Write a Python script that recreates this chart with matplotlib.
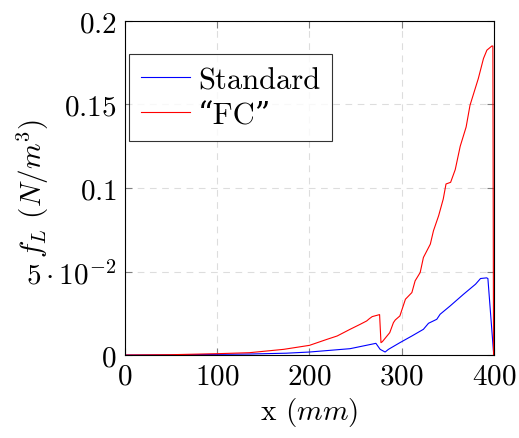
import matplotlib
matplotlib.use("Agg")
import matplotlib.pyplot as plt

# ---- data ----
x_std = [0, 50, 100, 135, 175, 200, 244, 272, 276.6, 282, 285.6, 298, 311,
         323.5, 329, 338, 341.6, 352.5, 367, 380, 385.4, 392, 393.4, 399.4, 400]
y_std = [0, 0.0001, 0.0004, 0.0006, 0.0011, 0.0018, 0.0038, 0.007, 0.0034,
         0.0018, 0.0034, 0.0074, 0.0114, 0.0154, 0.019, 0.0214, 0.0244, 0.0294,
         0.0364, 0.0424, 0.0458, 0.0462, 0.0458, 0.0024, 0]

x_fc = [0, 50, 100, 135, 172, 200, 219, 230, 244, 255, 262, 265, 268, 276,
        277.5, 279, 287, 291, 293, 298, 304, 311, 314.5, 320, 323.5, 331,
        334.4, 340, 345, 348, 353, 358, 363.4, 369.8, 374, 383, 388.6, 392.3,
        397.7, 398.8, 399.5]
y_fc = [0, 0.0002, 0.0008, 0.0014, 0.0034, 0.0058, 0.0094, 0.0114, 0.0154,
        0.0184, 0.0204, 0.0218, 0.023, 0.0242, 0.0074, 0.008, 0.0134, 0.0194,
        0.021, 0.0234, 0.0334, 0.0374, 0.0444, 0.0494, 0.0584, 0.0664, 0.0744,
        0.0834, 0.0934, 0.1024, 0.1034, 0.111, 0.125, 0.1365, 0.1495, 0.1655,
        0.1775, 0.1825, 0.185, 0.185, 0]

x_ticks = [0, 100, 200, 300, 400]
x_ticklabels = ["$0$", "$100$", "$200$", "$300$", "$400$"]
y_ticks = [0, 0.05, 0.1, 0.15, 0.2]
y_ticklabels = ["$0$", r"$5\cdot10^{-2}$", "$0.1$", "$0.15$", "$0.2$"]

plt.rcParams["font.family"] = ["cmr10", "DejaVu Serif"]
plt.rcParams["mathtext.fontset"] = "cm"
plt.rcParams["axes.unicode_minus"] = False

fig = plt.figure(figsize=(5.19, 4.39), dpi=100)
ax = fig.add_axes([0.2408, 0.189, 0.711, 0.761])

ax.plot(x_std, y_std, color="#0000ff", lw=0.8, label="Standard")
ax.plot(x_fc, y_fc, color="#ff0000", lw=0.8, label="\u201cFC\u201d")

ax.set_xlim(0, 400)
ax.set_ylim(0, 0.2)
ax.set_xticks(x_ticks)
ax.set_xticklabels(x_ticklabels)
ax.set_yticks(y_ticks)
ax.set_yticklabels(y_ticklabels)
ax.tick_params(direction="in", length=5, width=0.8, color="#808080",
               labelsize=21, top=True, right=True, pad=6)
ax.grid(True, color="#dddddd", linestyle=(0, (6, 5)), linewidth=0.8)
for s in ax.spines.values():
    s.set_linewidth(0.8)

ax.set_xlabel("x $(mm)$", fontsize=21, labelpad=4)
ax.set_ylabel("$f_L$ $(N/m^3)$", fontsize=21)
ax.yaxis.set_label_coords(-0.2, 0.5)

# legend box sits a little below the top of the axes
leg = ax.legend(loc="upper left", bbox_to_anchor=(0.011, 0.9), fontsize=22,
                frameon=True, fancybox=False, edgecolor="black",
                handlelength=1.6, handletextpad=0.25, borderpad=0.4,
                labelspacing=0.25, borderaxespad=0)
leg.get_frame().set_linewidth(0.8)

fig.savefig("out.png", dpi=100)
